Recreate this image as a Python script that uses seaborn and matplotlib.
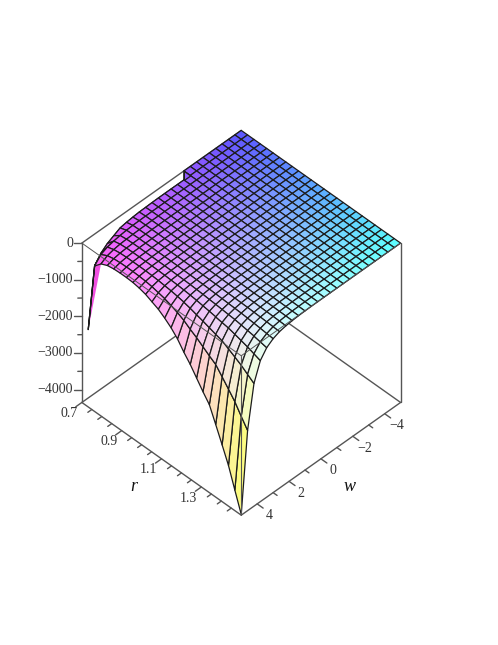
"""
Surface z(r, w) in the Maple style: xyz colouring, black mesh, boxed axes.
"""

import matplotlib
matplotlib.use("Agg")
import matplotlib.pyplot as plt
import numpy as np
import seaborn as sns
from mpl_toolkits.mplot3d.art3d import Poly3DCollection

# Axis ranges and ticks
r_range = [0.7, 1.5]
w_range = [-5.0, 5.0]
z_range = [-4350.0, 0.0]

r_major = [0.7, 0.9, 1.1, 1.3]
r_minor = [0.75, 0.8, 0.85, 0.95, 1.0, 1.05, 1.15, 1.2, 1.25, 1.35, 1.4, 1.45]
w_major = [4, 2, 0, -2, -4]
w_minor = [3, 1, -1, -3]
z_major = [0, -1000, -2000, -3000, -4000]
z_minor = [-500, -1500, -2500, -3500]

# Mesh: r runs along the rows, w along the columns (from w=5 towards w=-5)
n_mesh = 26
first_row_gap = 16  # first row has no values before this column

# Values, first 13 columns; the rest of the surface is flat at 0
z_near = [
    [0, 0, 0, 0, 0, 0, 0, 0, 0, 0, 0, 0, 0],
    [-2240, -620, -400, -260, -170, -80, -50, -30, -15, -10, -4, -1, 0],
    [-380, -190, -110, -70, -40, -20, -10, -5, -3, -1, 0, 0, 0],
    [-200, -100, -55, -30, -18, -10, -5, -3, -1, 0, 0, 0, 0],
    [-120, -60, -30, -15, -8, -4, -2, -1, 0, 0, 0, 0, 0],
    [-90, -45, -21, -10, -6, -3, -2, -1, -1, 0, 0, 0, 0],
    [-80, -40, -18, -9, -5, -3, -1, -1, 0, 0, 0, 0, 0],
    [-80, -40, -18, -9, -5, -3, -1, -1, 0, 0, 0, 0, 0],
    [-90, -45, -21, -10, -6, -3, -2, -1, -1, 0, 0, 0, 0],
    [-120, -60, -28, -14, -7, -4, -2, -1, -1, 0, 0, 0, 0],
    [-170, -85, -39, -20, -11, -6, -3, -2, -1, -1, 0, 0, 0],
    [-250, -125, -58, -29, -16, -9, -5, -3, -1, -1, 0, 0, 0],
    [-330, -165, -76, -38, -20, -12, -6, -3, -2, -1, -1, 0, 0],
    [-450, -225, -104, -52, -28, -16, -8, -5, -3, -1, -1, 0, 0],
    [-590, -295, -136, -68, -37, -21, -11, -6, -3, -2, -1, 0, 0],
    [-770, -385, -178, -89, -48, -27, -14, -8, -4, -2, -1, -1, 0],
    [-1010, -505, -233, -116, -63, -35, -19, -11, -6, -3, -2, -1, 0],
    [-1220, -610, -282, -140, -76, -43, -23, -13, -7, -4, -2, -1, 0],
    [-1470, -735, -340, -169, -91, -51, -27, -15, -9, -4, -2, -1, 0],
    [-1720, -860, -397, -198, -107, -60, -32, -18, -10, -5, -3, -1, 0],
    [-1950, -975, -450, -224, -121, -68, -36, -20, -11, -6, -3, -1, 0],
    [-2370, -1185, -547, -273, -147, -83, -44, -25, -14, -7, -4, -2, 0],
    [-2800, -1400, -647, -322, -174, -98, -52, -29, -16, -8, -4, -2, -1],
    [-3240, -1620, -748, -373, -201, -113, -60, -34, -19, -10, -5, -2, -1],
    [-3790, -1895, -875, -436, -235, -133, -70, -39, -22, -11, -6, -3, -1],
    [-4330, -2160, -1000, -500, -270, -150, -80, -45, -25, -13, -7, -3, -1],
]

sns.set_theme(style="white")
plt.rcParams["font.family"] = ["Liberation Serif", "DejaVu Serif"]

FRAME = "#555555"
TEXT = "#333333"

r_grid = np.linspace(r_range[0], r_range[1], n_mesh)
w_grid = np.linspace(w_range[1], w_range[0], n_mesh)
W, R = np.meshgrid(w_grid, r_grid)
Z = np.zeros((n_mesh, n_mesh))
Z[:, :13] = np.array(z_near, dtype=float)
Z[0, :first_row_gap] = np.nan


def xyz_colour(w, r, z):
    """Maple's xyz shading: red follows w, green follows r, blue follows z."""
    red = 0.35 + 0.65 * (w - w_range[0]) / (w_range[1] - w_range[0])
    green = 0.33 + 0.67 * (r - r_range[0]) / (r_range[1] - r_range[0])
    blue = 0.3 + 0.7 * (z - z_range[0]) / (z_range[1] - z_range[0])
    return np.stack([red, green, blue], axis=-1)


def cell_mean(a):
    return (a[:-1, :-1] + a[1:, :-1] + a[:-1, 1:] + a[1:, 1:]) / 4


colours = xyz_colour(cell_mean(W), cell_mean(R), np.nan_to_num(cell_mean(Z)))
colours = np.clip(colours, 0, 1)

fig = plt.figure(figsize=(4.98, 6.45), dpi=100)
ax = fig.add_axes([-14.5 / 498, -7 / 645, 1, 1], projection="3d", computed_zorder=False)
ax.set_proj_type("ortho")
ax.view_init(elev=45, azim=45)
ax.set_box_aspect((1, 1, 1), zoom=0.761)
ax.set_xlim(w_range)
ax.set_ylim(r_range)
ax.set_zlim(z_range)
ax.set_xticks([])
ax.set_yticks([])
ax.set_zticks([])
ax.set_axis_off()

w0, w1 = w_range
r0, r1 = r_range
z0, z1 = z_range


def frame_line(w, r, z, zorder, lw=1.0):
    ax.plot(w, r, z, color=FRAME, lw=lw, zorder=zorder, solid_capstyle="round")


# back of the box, hidden by the surface
frame_line([w1, w0], [r0, r0], [z1, z1], 1)
frame_line([w1, w0], [r0, r0], [z0, z0], 1)
frame_line([w0, w0], [r0, r1], [z0, z0], 1)

# magenta sliver under the spike at the w=5 end of the second row
sliver = [[
    (w_grid[0], r_grid[1], Z[1, 0]),
    (w_grid[0], r_grid[2], Z[2, 0]),
    (w_grid[0], r_grid[3], Z[3, 0]),
]]
ax.add_collection3d(Poly3DCollection(
    sliver, facecolors=["#f050e0"], edgecolors="none", zorder=1.5,
))

surf = ax.plot_surface(
    W, R, Z, facecolors=colours, rstride=1, cstride=1, shade=False,
    edgecolor="#1c1c1c", linewidth=0.9, antialiased=True, zorder=2,
)

# the notch at the end of the first row is a single triangle
notch = [[
    (w_grid[first_row_gap], r_grid[0], Z[0, first_row_gap]),
    (w_grid[first_row_gap], r_grid[1], Z[1, first_row_gap]),
    (w_grid[first_row_gap - 1], r_grid[1], Z[1, first_row_gap - 1]),
]]
ax.add_collection3d(Poly3DCollection(
    notch, facecolors=[colours[0, first_row_gap]], edgecolors="#1c1c1c",
    linewidths=0.9, zorder=2,
))

# front of the box, drawn over the surface
frame_line([w1, w1], [r0, r0], [z0, z1], 3)
frame_line([w0, w0], [r1, r1], [z0, z1], 3)
frame_line([w1, w1], [r1, r1], [z0, z1], 3, lw=0.8)
frame_line([w1, w1], [r0, r1], [z1, z1], 3, lw=0.7)
frame_line([w1, w0], [r1, r1], [z1, z1], 3, lw=0.7)
frame_line([w1, w1], [r0, r1], [z0, z0], 3)
frame_line([w1, w0], [r1, r1], [z0, z0], 3)

# r axis
for value in r_major:
    frame_line([w1, w1 + 0.38], [value, value], [z0, z0], 3)
    ax.text(w1 + 0.81, value, z0 - 55, f"{value:.1f}", ha="center", va="center",
            fontsize=10, color=TEXT)
for value in r_minor:
    frame_line([w1, w1 + 0.25], [value, value], [z0, z0], 3)
ax.text(w1 + 1.75, 1.1, z0 - 228, "r", ha="center", va="center", fontsize=13,
        style="italic", color="#111111")

# w axis
for value in w_major:
    frame_line([value, value], [r1, r1 + 0.03], [z0, z0], 3)
    label = f"{value}".replace("-", "\u2212")
    ax.text(value, r1 + 0.06, z0 - 100, label, ha="center", va="center",
            fontsize=10, color=TEXT)
for value in w_minor:
    frame_line([value, value], [r1, r1 + 0.02], [z0, z0], 3)
ax.text(0, r1 + 0.146, z0 - 190, "w", ha="center", va="center", fontsize=13,
        style="italic", color="#111111")

# z axis: a tick going straight left on screen moves along +w and -r
for value in z_major:
    frame_line([w1, w1 + 0.25], [r0, r0 - 0.02], [value, value], 3)
    label = f"{value}".replace("-", "\u2212")
    ax.text(w1 + 0.28, r0 - 0.0226, value, label, ha="right", va="center",
            fontsize=10, color=TEXT)
for value in z_minor:
    frame_line([w1, w1 + 0.13], [r0, r0 - 0.01], [value, value], 3)

fig.savefig("out.png", dpi=100)
